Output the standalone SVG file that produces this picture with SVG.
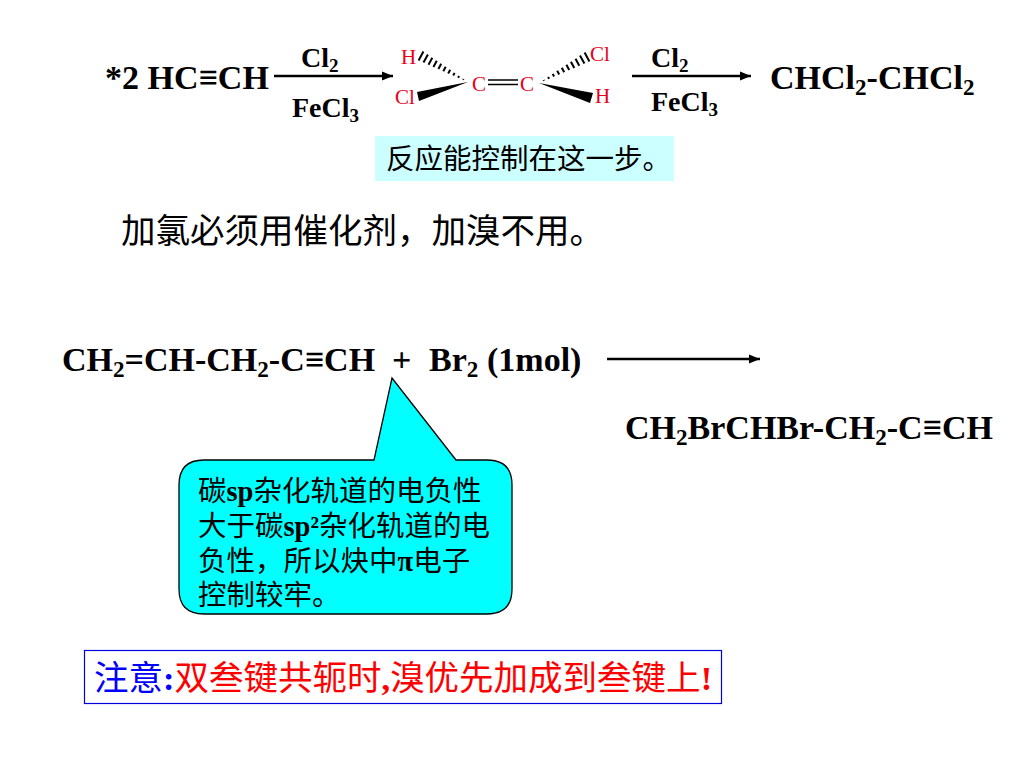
<svg xmlns="http://www.w3.org/2000/svg" width="1024" height="768" viewBox="0 0 1024 768">
<style>
text{font-family:"Liberation Serif","Noto Sans CJK SC",serif;fill:#000}
.f{font-size:34px;font-weight:bold}
.g{font-size:28px;font-weight:bold}
.c{font-family:"Noto Sans CJK SC","Liberation Serif",sans-serif;font-size:34.500px}
.w{font-family:"Noto Sans CJK SC","Liberation Serif",sans-serif;font-size:34.500px}
.b{font-family:"Noto Sans CJK SC","Liberation Serif",sans-serif;font-size:28.500px}
.t{font-family:"Noto Sans CJK SC","Liberation Serif",sans-serif;font-size:28.500px}
.e{font-family:"Liberation Serif",serif;font-weight:bold}
.r{font-size:21px;fill:#e8001c}
.s{font-size:68%;baseline-shift:-25%}
.l{stroke:#000;fill:none;stroke-width:2.400}
.h{stroke:#000;fill:none;stroke-width:1.500}
.d{stroke:#000;fill:none;stroke-width:2}
</style>
<defs><marker id="a" markerUnits="userSpaceOnUse" markerWidth="12" markerHeight="10" refX="11" refY="5" orient="auto"><path d="M0 0.500L11 5L0 9.500z" fill="#000"/></marker></defs>
<rect width="1024" height="768" fill="#fff"/>
<g id="connectors">
<path class="l" marker-end="url(#a)" d="M274 76H393"/>
<path class="l" marker-end="url(#a)" d="M632 76H751"/>
<path class="l" marker-end="url(#a)" d="M607 359H760"/>
</g>
<g id="reactant"><text class="f" x="105" y="89">*2 HC≡CH</text></g>
<g id="cond1"><text class="g" x="301" y="67">Cl<tspan class="s">2</tspan></text><text class="g" x="292" y="117">FeCl<tspan class="s">3</tspan></text></g>
<g id="intermediate">
<text class="r" x="401" y="64">H</text><text class="r" x="395" y="104">Cl</text>
<text class="r" x="472" y="91">C</text><text class="r" x="520" y="91">C</text>
<text class="r" x="590" y="61">Cl</text><text class="r" x="595" y="103">H</text>
<path class="h" d="M488 80H518M488 84.500H518"/>
<path class="d" d="M423.400 51.600L418.600 60.400M427.900 54.600L423.500 62.600M432.300 57.700L428.500 64.700M436.800 60.700L433.400 66.900M441.200 63.800L438.400 69M445.700 66.800L443.300 71.200M450.200 69.800L448.200 73.400M454.600 72.900L453.200 75.500M459.100 75.900L458.100 77.700M463.500 79L463.100 79.800"/>
<path class="d" d="M584.600 52.600L589.400 61.400M580 55.600L584.400 63.600M575.500 58.700L579.300 65.700M570.900 61.700L574.300 67.900M566.400 64.800L569.200 70M561.800 67.800L564.200 72.200M557.200 70.800L559.200 74.400M552.700 73.900L554.100 76.500M548.100 76.900L549.100 78.700M543.600 80L544 80.800"/>
<path d="M417 92L419 101L468 82z" fill="#000"/>
<path d="M539 83L593 93L590 103z" fill="#000"/>
</g>
<g id="cond2"><text class="g" x="651" y="67">Cl<tspan class="s">2</tspan></text><text class="g" x="651" y="111">FeCl<tspan class="s">3</tspan></text></g>
<g id="product1"><text class="f" x="770" y="89">CHCl<tspan class="s">2</tspan>-CHCl<tspan class="s">2</tspan></text></g>
<g id="note1"><rect x="375" y="136" width="299" height="45" fill="#ccffff"/><text class="b" x="386" y="169">反应能控制在这一步。</text></g>
<g id="note2"><text class="c" x="121" y="243">加氯必须用催化剂，加溴不用。</text></g>
<g id="reaction2"><text class="f" x="62" y="371">CH<tspan class="s">2</tspan>=CH-CH<tspan class="s">2</tspan>-C≡CH<tspan x="392">+</tspan><tspan x="429">Br</tspan><tspan class="s">2</tspan><tspan x="487">(1mol)</tspan></text></g>
<g id="product2"><text class="f" x="625" y="439">CH<tspan class="s">2</tspan>BrCHBr-CH<tspan class="s">2</tspan>-C≡CH</text></g>
<g id="callout">
<path d="M204 460H374L392 378L456 460H487Q512 460 512 485V589Q512 614 487 614H204Q179 614 179 589V485Q179 460 204 460z" fill="#00ffff" stroke="#000" stroke-width="1.300"/>
<text class="t" x="198" y="501">碳<tspan class="e">sp</tspan>杂化轨道的电负性</text>
<text class="t" x="198" y="536">大于碳<tspan class="e">sp²</tspan>杂化轨道的电</text>
<text class="t" x="198" y="571">负性，所以炔中<tspan class="e">π</tspan>电子</text>
<text class="t" x="198" y="605">控制较牢。</text>
</g>
<g id="warning"><rect x="84.500" y="650.500" width="637" height="53" fill="#fff" stroke="#0000e0" stroke-width="1.200"/>
<text class="w" x="94" y="690"><tspan style="fill:#0000ff">注意</tspan><tspan class="e" style="fill:#0000ff">:</tspan><tspan style="fill:#ff0000">双叁键共轭时</tspan><tspan class="e" style="fill:#ff0000">,</tspan><tspan style="fill:#ff0000">溴优先加成到叁键上</tspan><tspan class="e" style="fill:#ff0000">!</tspan></text></g>
</svg>
